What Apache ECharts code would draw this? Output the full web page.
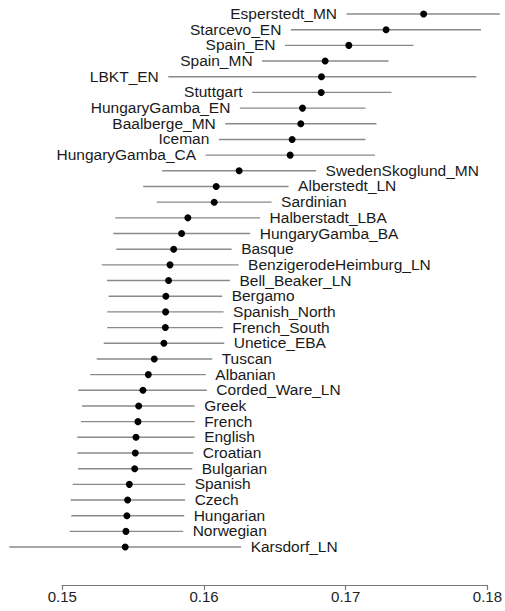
<!DOCTYPE html>
<html>
<head>
<meta charset="utf-8">
<script src="https://cdn.jsdelivr.net/npm/echarts@6/dist/echarts.min.js"></script>
<style>
html,body{margin:0;padding:0;background:#fff;}
#chart{width:505px;height:611px;}
</style>
</head>
<body>
<div id="chart"></div>
<script>
const populations = ["Esperstedt_MN","Starcevo_EN","Spain_EN","Spain_MN","LBKT_EN","Stuttgart","HungaryGamba_EN","Baalberge_MN","Iceman","HungaryGamba_CA","SwedenSkoglund_MN","Alberstedt_LN","Sardinian","Halberstadt_LBA","HungaryGamba_BA","Basque","BenzigerodeHeimburg_LN","Bell_Beaker_LN","Bergamo","Spanish_North","French_South","Unetice_EBA","Tuscan","Albanian","Corded_Ware_LN","Greek","French","English","Croatian","Bulgarian","Spanish","Czech","Hungarian","Norwegian","Karsdorf_LN"];
const estimate = [0.1755,0.17285,0.17022,0.16855,0.16829,0.16827,0.16695,0.16683,0.16622,0.16608,0.16248,0.16086,0.16072,0.15886,0.15842,0.15786,0.15760,0.15750,0.15731,0.15729,0.15727,0.15717,0.15649,0.15607,0.15569,0.15539,0.15534,0.15520,0.15515,0.15511,0.15473,0.15461,0.15456,0.15449,0.15444];
const lower = [0.17006,0.16613,0.16571,0.16410,0.15748,0.16340,0.16253,0.16150,0.16105,0.16011,0.15705,0.15571,0.15666,0.15374,0.15360,0.15381,0.15278,0.15315,0.15327,0.15317,0.15317,0.15292,0.15243,0.15197,0.15113,0.15139,0.15132,0.15106,0.15106,0.15111,0.15073,0.15059,0.15063,0.15052,0.14626];
const upper = [0.18087,0.17955,0.17478,0.17302,0.17922,0.17323,0.17140,0.17217,0.17140,0.17207,0.16791,0.16597,0.16477,0.16396,0.16326,0.16195,0.16244,0.16183,0.16128,0.16138,0.16133,0.16143,0.16058,0.16013,0.16020,0.15934,0.15934,0.15934,0.15924,0.15917,0.15867,0.15867,0.15860,0.15853,0.16262];
const leftLabelCount = 10; // first rows carry their name left of the interval
const xTicks = [0.15, 0.16, 0.17, 0.18];

const FONT = '"Liberation Sans", Arial, sans-serif';
const rows = populations.map((n, i) => [lower[i], estimate[i], upper[i], i]);

const chart = echarts.init(document.getElementById('chart'), null, {renderer: 'svg'});
chart.setOption({
  animation: false,
  backgroundColor: '#fff',
  grid: {left: 62.3, right: 17.3, top: 6.2, bottom: 56.1, containLabel: false},
  xAxis: {
    type: 'value',
    min: xTicks[0], max: xTicks[xTicks.length - 1], interval: 0.01,
    offset: 30,
    axisLine: {show: true, lineStyle: {color: '#777', width: 1.2}},
    axisTick: {show: true, length: 5, lineStyle: {color: '#777', width: 1.2}},
    axisLabel: {margin: 4, color: '#222', fontSize: 15, fontFamily: FONT,
      formatter: v => v.toFixed(2)},
    splitLine: {show: false}
  },
  yAxis: {
    type: 'category', data: populations, inverse: true, show: false,
    boundaryGap: true
  },
  series: [{
    type: 'custom',
    clip: false,
    encode: {x: [0, 1, 2], y: 3},
    data: rows,
    renderItem: function (params, api) {
      const idx = api.value(3);
      const pLo = api.coord([api.value(0), idx]);
      const pMid = api.coord([api.value(1), idx]);
      const pHi = api.coord([api.value(2), idx]);
      const left = idx < leftLabelCount;
      return {
        type: 'group',
        children: [
          {type: 'line', shape: {x1: pLo[0], y1: pLo[1], x2: pHi[0], y2: pHi[1]},
           style: {stroke: '#8a8a8a', lineWidth: 1.4}},
          {type: 'circle', shape: {cx: pMid[0], cy: pMid[1], r: 3.5},
           style: {fill: '#000'}},
          {type: 'text', x: left ? pLo[0] - 9.5 : pHi[0] + 9.5, y: pMid[1] - 0.5,
           style: {text: populations[idx], fill: '#1a1a1a', font: '15.5px ' + FONT,
             align: left ? 'right' : 'left', verticalAlign: 'middle'}}
        ]
      };
    }
  }]
});
</script>
</body>
</html>
